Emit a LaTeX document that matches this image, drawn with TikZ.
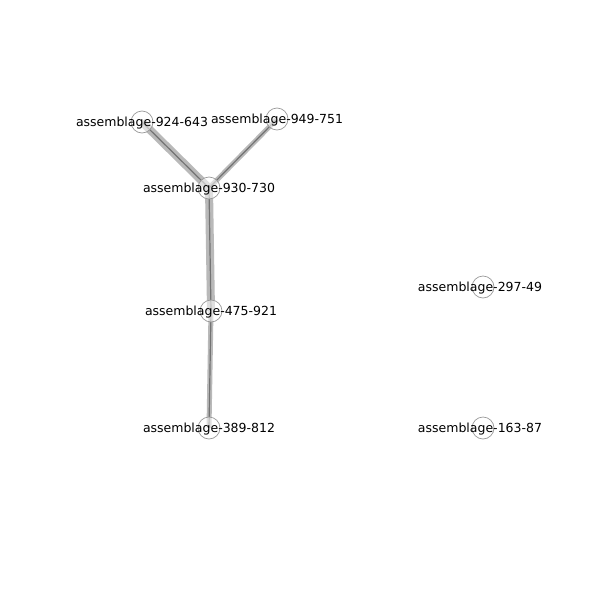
\documentclass[tikz,border=0pt]{standalone}
\usepackage{fontspec}
\setmainfont{DejaVu Sans}
\begin{document}
\begin{tikzpicture}[x=1pt,y=-1pt,
  nd/.style={circle,draw=gray!80,line width=0.7pt,fill=white,fill opacity=0.55,text opacity=1,minimum size=22pt,inner sep=0pt},
  lbl/.style={font=\fontsize{12.5}{14}\selectfont,text=black,yshift=-1pt},
  wide/.style={line width=8pt,draw=gray!55},
  mid/.style={line width=5pt,draw=gray!55},
  core/.style={line width=1.2pt,draw=gray!90!black}]
\useasboundingbox (0,0) rectangle (600,600);
\coordinate (p1) at (142,122);
\coordinate (p2) at (277,119);
\coordinate (p3) at (209,188);
\coordinate (p4) at (211,311);
\coordinate (p5) at (209,428);
\coordinate (p6) at (483,287);
\coordinate (p7) at (483,428);
\draw[wide] (p1) -- (p3);
\draw[core] (p1) -- (p3);
\draw[mid] (p2) -- (p3);
\draw[core] (p2) -- (p3);
\draw[wide] (p3) -- (p4);
\draw[core] (p3) -- (p4);
\draw[mid] (p4) -- (p5);
\draw[core] (p4) -- (p5);
\foreach \i in {1,...,7} {\node[nd] (n\i) at (p\i) {};}
\node[lbl] (t1) at (p1) {assemblage-924-643};
\node[lbl] (t2) at (p2) {assemblage-949-751};
\node[lbl] (t3) at (p3) {assemblage-930-730};
\node[lbl] (t4) at (p4) {assemblage-475-921};
\node[lbl] (t5) at (p5) {assemblage-389-812};
\node[lbl,xshift=-3pt] (t6) at (p6) {assemblage-297-49};
\node[lbl,xshift=-3pt] (t7) at (p7) {assemblage-163-87};
\end{tikzpicture}
\end{document}
